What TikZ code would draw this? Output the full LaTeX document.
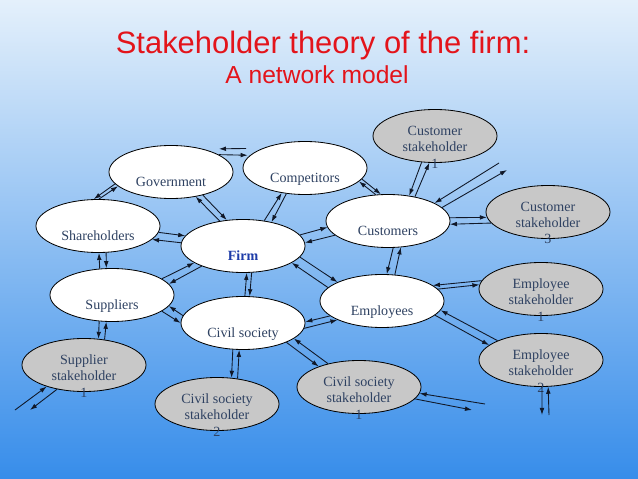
\documentclass[tikz,border=0pt]{standalone}
\usepackage{fontspec}
\setmainfont{Liberation Serif}
\setsansfont{Liberation Sans}
\usetikzlibrary{arrows.meta, shapes.geometric}
\definecolor{skytop}{HTML}{E4F0FB}
\definecolor{skybot}{HTML}{378DEA}
\definecolor{tred}{HTML}{E3141B}
\definecolor{slate}{HTML}{2F4262}
\definecolor{firmblue}{HTML}{1E3CA8}
\definecolor{shgrey}{HTML}{C8C8C8}
\definecolor{ink}{HTML}{101828}
\tikzset{
  >=Latex,
  ell/.style={
    ellipse, draw=black, line width=0.7pt, inner sep=0pt,
    minimum width=3.72cm, minimum height=1.59cm
  },
  txt/.style={font=\fontsize{12}{14}\selectfont, text=slate, align=center, inner sep=0pt},
  one/.style={txt, text height=8.5pt, text depth=2.5pt, yshift=-0.315cm},
  many/.style={txt, yshift=-0.33cm},
  party/.style={ell, fill=white, label={[one]center:{#1}}},
  stake/.style={ell, fill=shgrey, label={[many]center:{#1}}},
  arr/.style={-{Latex[length=6pt,width=4pt]}, line width=0.75pt, draw=ink},
  ttl/.style={text=tred, inner sep=0pt, anchor=base}
}
\begin{document}
\begin{tikzpicture}[x=0.03cm, y=-0.03cm]
  \shade[top color=skytop, bottom color=skybot] (0,0) rectangle (638,479);
  \node[ttl, font=\sffamily\fontsize{26.4}{30}\selectfont] (title) at (323,54) {Stakeholder theory of the firm:};
  \node[ttl, font=\sffamily\fontsize{21}{25}\selectfont] (subtitle) at (317,83) {A network model};

  % first ring
  \node[party=Government] (gov) at (171,172) {};
  \node[party=Competitors] (comp) at (305,168) {};
  \node[party=Shareholders] (shr) at (98,226) {};
  \node[party={\color{firmblue}\bfseries Firm}] (firm) at (243,246) {};
  \node[party=Customers] (cust) at (388,221) {};
  \node[party=Suppliers] (sup) at (112,295) {};
  \node[party=Civil society] (civ) at (243,323) {};
  \node[party=Employees] (emp) at (382,301) {};
  % stakeholders
  \node[stake={Customer\\stakeholder\\1}] (cs1) at (435,136) {};
  \node[stake={Customer\\stakeholder\\3}] (cs3) at (548,212) {};
  \node[stake={Employee\\stakeholder\\1}] (es1) at (541,289) {};
  \node[stake={Employee\\stakeholder\\2}] (es2) at (541,360) {};
  \node[stake={Supplier\\stakeholder\\1}] (ss1) at (84,365) {};
  \node[stake={Civil society\\stakeholder\\2}] (css2) at (217,404) {};
  \node[stake={Civil society\\stakeholder\\1}] (css1) at (359,387) {};

  \coordinate (cs-in) at (499,163);
  \coordinate (cs-out) at (507,170);
  \coordinate (ss-in) at (15,410);
  \coordinate (ss-out) at (30,410);
  \coordinate (es-in) at (549,415);
  \coordinate (es-out) at (542,415);
  \coordinate (soc-in) at (485,404);
  \coordinate (soc-out) at (472,410);

  \draw[arr, shorten <=14pt, shorten >=13pt] (comp.155) -- (gov.35);
  \draw[arr, shorten >=2pt] (gov.20) -- (comp.167);
  \draw[arr] (gov.-168) -- (shr.99);
  \draw[arr] (shr.88) -- (gov.-165);
  \draw[arr] (firm.133) -- (gov.-45);
  \draw[arr] (gov.-36) -- (firm.122);
  \draw[arr] (firm.50) -- (comp.-133);
  \draw[arr] (comp.-126) -- (firm.40);
  \draw[arr] (shr.-6) -- (firm.170);
  \draw[arr] (firm.177) -- (shr.-14);
  \draw[arr] (sup.115) -- (shr.-88);
  \draw[arr] (shr.-73) -- (sup.102);
  \draw[arr] (sup.18) -- (firm.-161);
  \draw[arr] (firm.-154) -- (sup.11);
  \draw[arr] (firm.11) -- (cust.-174);
  \draw[arr] (cust.-165) -- (firm.3);
  \draw[arr] (firm.-11) -- (emp.157);
  \draw[arr] (emp.166) -- (firm.-19);
  \draw[arr] (cust.115) -- (comp.-14);
  \draw[arr] (comp.-11) -- (cust.105);
  \draw[arr] (cs1.-117) -- (cust.50);
  \draw[arr] (cust.42) -- (cs1.-102);
  \draw[arr] (cs-in) -- (cust.21);
  \draw[arr] (cust.14) -- (cs-out);
  \draw[arr] (cust.3) -- (cs3.-175);
  \draw[arr] (cs3.-169) -- (cust.-3);
  \draw[arr] (cust.-79) -- (emp.80);
  \draw[arr] (emp.64) -- (cust.-64);
  \draw[arr] (sup.-116) -- (ss1.61);
  \draw[arr] (ss1.51) -- (sup.-102);
  \draw[arr] (ss-in) -- (ss1.-150);
  \draw[arr] (ss1.-138) -- (ss-out);
  \draw[arr] (sup.-18) -- (civ.180);
  \draw[arr] (civ.173) -- (sup.-11);
  \draw[arr] (civ.86) -- (firm.-82);
  \draw[arr] (firm.-72) -- (civ.76);
  \draw[arr] (civ.-111) -- (css2.61);
  \draw[arr] (css2.51) -- (civ.-98);
  \draw[arr] (emp.-164) -- (civ.1);
  \draw[arr] (civ.-5) -- (emp.-157);
  \draw[arr] (css1.143) -- (civ.-17);
  \draw[arr] (civ.-24) -- (css1.153);
  \draw[arr] (es1.172) -- (emp.17);
  \draw[arr] (emp.12) -- (es1.176);
  \draw[arr] (es2.156) -- (emp.-9);
  \draw[arr] (emp.-15) -- (es2.164);
  \draw[arr] (es2.-88) -- (es-out);
  \draw[arr] (es-in) -- (es2.-75);
  \draw[arr] (soc-in) -- (css1.-6);
  \draw[arr] (css1.-12) -- (soc-out);
\end{tikzpicture}
\end{document}
